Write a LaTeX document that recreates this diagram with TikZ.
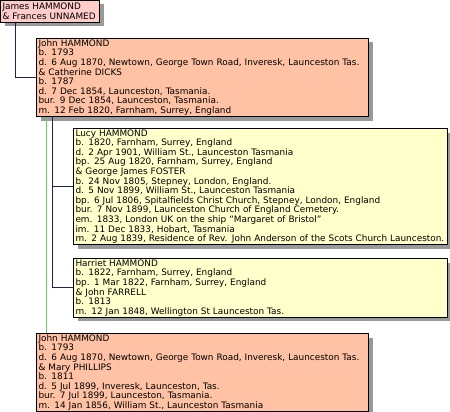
\documentclass[tikz,border=0pt]{standalone}
\usepackage{fontspec}
\setmainfont{DejaVu Sans}
\usetikzlibrary{shadows}
\definecolor{pinkc}{HTML}{FFCCCC}
\definecolor{salmonc}{HTML}{FFC2A4}
\definecolor{yellowc}{HTML}{FFFFCC}
\definecolor{shadowc}{HTML}{999999}
\definecolor{navyc}{HTML}{202060}
\definecolor{greenc}{HTML}{66CC66}
\begin{document}
\begin{tikzpicture}[x=1pt,y=-1pt,
	person/.style={draw=black,line width=1pt,anchor=north west,align=left,
		inner xsep=2pt,inner ysep=1pt,font=\fontsize{8.9}{9.6}\selectfont,
		drop shadow={shadow xshift=4pt,shadow yshift=-4pt,fill=shadowc,opacity=1}},
	navyline/.style={line width=1pt,color=navyc},
	greenline/.style={line width=1pt,color=greenc}]
		\useasboundingbox[fill=white] (0,0) rectangle (450,412);
		\node[person,fill=pinkc,minimum width=99pt,minimum height=22pt,text width=95pt] (p) at (0,0)
			{James HAMMOND\\\& Frances UNNAMED};
		\node[person,fill=salmonc,minimum width=332pt,minimum height=78pt,text width=328pt] (j1) at (36,38)
			{John HAMMOND\\b. 1793\\d. 6 Aug 1870, Newtown, George Town Road, Inveresk, Launceston Tas.\\\& Catherine DICKS\\b. 1787\\d. 7 Dec 1854, Launceston, Tasmania.\\bur. 9 Dec 1854, Launceston, Tasmania.\\m. 12 Feb 1820, Farnham, Surrey, England};
		\node[person,fill=yellowc,minimum width=374pt,minimum height=114pt,text width=370pt] (lucy) at (73,128)
			{Lucy HAMMOND\\b. 1820, Farnham, Surrey, England\\d. 2 Apr 1901, William St., Launceston Tasmania\\bp. 25 Aug 1820, Farnham, Surrey, England\\\& George James FOSTER\\b. 24 Nov 1805, Stepney, London, England.\\d. 5 Nov 1899, William St., Launceston Tasmania\\bp. 6 Jul 1806, Spitalfields Christ Church, Stepney, London, England\\bur. 7 Nov 1899, Launceston Church of England Cemetery.\\em. 1833, London UK on the ship “Margaret of Bristol”\\im. 11 Dec 1833, Hobart, Tasmania\\m. 2 Aug 1839, Residence of Rev. John Anderson of the Scots Church Launceston.};
		\node[person,fill=yellowc,minimum width=374pt,minimum height=58pt,text width=370pt] (harriet) at (73,258)
			{Harriet HAMMOND\\b. 1822, Farnham, Surrey, England\\bp. 1 Mar 1822, Farnham, Surrey, England\\\& John FARRELL\\b. 1813\\m. 12 Jan 1848, Wellington St Launceston Tas.};
		\node[person,fill=salmonc,minimum width=332pt,minimum height=75pt,text width=328pt] (j2) at (36,333)
			{John HAMMOND\\b. 1793\\d. 6 Aug 1870, Newtown, George Town Road, Inveresk, Launceston Tas.\\\& Mary PHILLIPS\\b. 1811\\d. 5 Jul 1899, Inveresk, Launceston, Tas.\\bur. 7 Jul 1899, Launceston, Tasmania.\\m. 14 Jan 1856, William St., Launceston Tasmania};
		% family lines
		\draw[navyline] ([xshift=15pt]p.south west) |- (j1.west);
		\draw[navyline] ([xshift=16pt]j1.south west) |- (lucy.west);
		\draw[navyline] ([xshift=16pt]j1.south west) |- (harriet.west);
		\draw[greenline] ([xshift=10pt]j1.south west) -- ([xshift=10pt]j2.north west);
\end{tikzpicture}
\end{document}
